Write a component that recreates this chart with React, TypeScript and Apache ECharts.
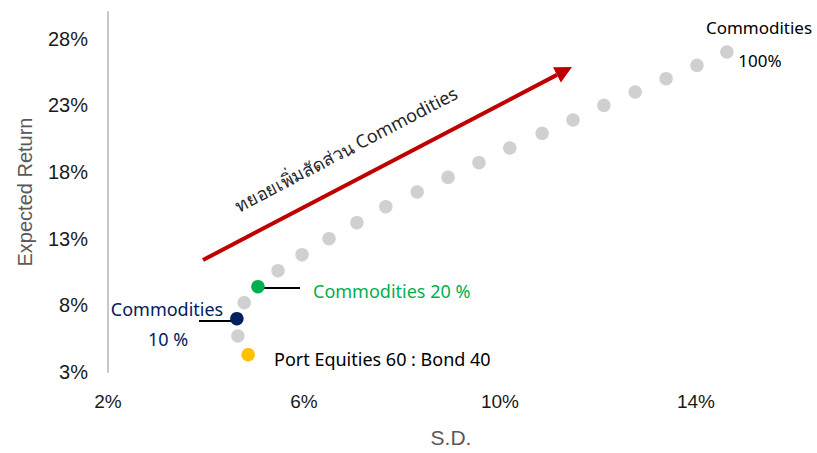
import React, { useEffect, useRef } from "react";
import * as echarts from "echarts";

// Standard deviation (%) and expected return (%) for Commodities weight 0%..100% (step 5%)
const weights = [0, 5, 10, 15, 20, 25, 30, 35, 40, 45, 50, 55, 60, 65, 70, 75, 80, 85, 90, 95, 100];
const sdValues = [4.86, 4.65, 4.63, 4.78, 5.06, 5.47, 5.96, 6.51, 7.08, 7.67, 8.31, 8.94, 9.57, 10.2, 10.86, 11.49, 12.12, 12.76, 13.39, 14.02, 14.63];
const returnValues = [4.3, 5.7, 7.0, 8.2, 9.4, 10.6, 11.8, 13.0, 14.2, 15.4, 16.5, 17.6, 18.7, 19.8, 20.9, 21.9, 23.0, 24.0, 25.0, 26.0, 27.0];
const xTicks = [2, 6, 10, 14];
const yTicks = [3, 8, 13, 18, 23, 28];

const GRAY = "#D0D0D0";
const YELLOW = "#FFC000";
const NAVY = "#002060";
const GREEN = "#00B050";
const RED = "#C00000";
const LABEL_FONT = "'Noto Sans', 'DejaVu Sans', sans-serif";

function colorFor(w: number) {
  if (w === 0) return YELLOW;
  if (w === 10) return NAVY;
  if (w === 20) return GREEN;
  return GRAY;
}

export default function App() {
  const ref = useRef<HTMLDivElement>(null);
  useEffect(() => {
    if (!ref.current) return;
    const chart = echarts.init(ref.current, undefined, { renderer: "svg" });
    const data = weights.map((w, i) => ({
      value: [sdValues[i], returnValues[i]],
      itemStyle: { color: colorFor(w), opacity: 1 },
    }));

    // arrow geometry
    const sx = 203, sy = 260, tx = 572, ty = 67;
    const len = Math.hypot(tx - sx, ty - sy);
    const ux = (tx - sx) / len, uy = (ty - sy) / len;
    const nx = -uy, ny = ux;
    const headLen = 17, headW = 8.5;
    const bx = tx - headLen * ux, by = ty - headLen * uy;
    const angle = Math.atan2(sy - ty, tx - sx);

    chart.setOption({
      animation: false,
      grid: { left: 108, width: 686, top: 12, height: 367, containLabel: false },
      xAxis: {
        type: "value",
        min: 2,
        max: 16,
        interval: 4,
        name: "S.D.",
        nameLocation: "middle",
        nameGap: 55,
        nameTextStyle: { color: "#595959", fontSize: 21, fontFamily: "'Liberation Sans Narrow', 'Liberation Sans', sans-serif" },
        axisLine: { show: false },
        axisTick: { show: false },
        splitLine: { show: false },
        axisLabel: {
          margin: 20,
          color: "#1a1a1a",
          fontSize: 19,
          fontFamily: "'Liberation Sans', Arial, sans-serif",
          formatter: (v: number) => (xTicks.includes(v) ? v + "%" : ""),
        },
      },
      yAxis: {
        type: "value",
        min: 3,
        max: 30,
        interval: 5,
        name: "Expected Return",
        nameLocation: "middle",
        nameRotate: 90,
        nameGap: 73,
        nameTextStyle: { color: "#595959", fontSize: 20, fontFamily: "'Liberation Sans', sans-serif" },
        axisLine: { show: true, lineStyle: { color: "#C8C8C8", width: 2 } },
        axisTick: { show: false },
        splitLine: { show: false },
        axisLabel: {
          margin: 20,
          color: "#1a1a1a",
          fontSize: 20,
          fontFamily: "'Liberation Sans', Arial, sans-serif",
          formatter: (v: number) => (yTicks.includes(v) ? v + "%" : ""),
        },
      },
      series: [
        {
          type: "scatter",
          symbol: "circle",
          symbolSize: 13.5,
          data,
        },
      ],
      graphic: [
        { type: "line", shape: { x1: sx, y1: sy, x2: bx, y2: by }, style: { stroke: RED, lineWidth: 4 }, z: 10 },
        {
          type: "polygon",
          shape: { points: [[tx, ty], [bx + headW * nx, by + headW * ny], [bx - headW * nx, by - headW * ny]] },
          style: { fill: RED },
          z: 10,
        },
        {
          type: "text",
          x: 346,
          y: 149,
          rotation: angle,
          style: {
            text: "ทยอยเพิ่มสัดส่วน Commodities",
            fill: "#262626",
            font: `18px ${LABEL_FONT}`,
            align: "center",
            verticalAlign: "middle",
          },
          z: 10,
        },
        { type: "line", shape: { x1: 260, y1: 288, x2: 300, y2: 288 }, style: { stroke: "#000", lineWidth: 2 }, z: 1 },
        { type: "line", shape: { x1: 199, y1: 321, x2: 236, y2: 321 }, style: { stroke: "#000", lineWidth: 2 }, z: 1 },
        {
          type: "text", x: 313, y: 291,
          style: { text: "Commodities 20 %", fill: GREEN, font: `18px ${LABEL_FONT}`, align: "left", verticalAlign: "middle" },
        },
        {
          type: "text", x: 167, y: 309,
          style: { text: "Commodities", fill: NAVY, font: `18px ${LABEL_FONT}`, align: "center", verticalAlign: "middle" },
        },
        {
          type: "text", x: 168, y: 339,
          style: { text: "10 %", fill: NAVY, font: `18px ${LABEL_FONT}`, align: "center", verticalAlign: "middle" },
        },
        {
          type: "text", x: 274, y: 359,
          style: { text: "Port Equities 60 : Bond 40", fill: "#000", font: `18px ${LABEL_FONT}`, align: "left", verticalAlign: "middle" },
        },
        {
          type: "text", x: 759, y: 27,
          style: { text: "Commodities", fill: "#000", font: `17px ${LABEL_FONT}`, align: "center", verticalAlign: "middle" },
        },
        {
          type: "text", x: 760, y: 60,
          style: { text: "100%", fill: "#000", font: `17px ${LABEL_FONT}`, align: "center", verticalAlign: "middle" },
        },
      ],
    });
    return () => chart.dispose();
  }, []);
  return <div ref={ref} style={{ position: "fixed", left: 0, top: 0, width: 817, height: 453, background: "#fff" }} />;
}
